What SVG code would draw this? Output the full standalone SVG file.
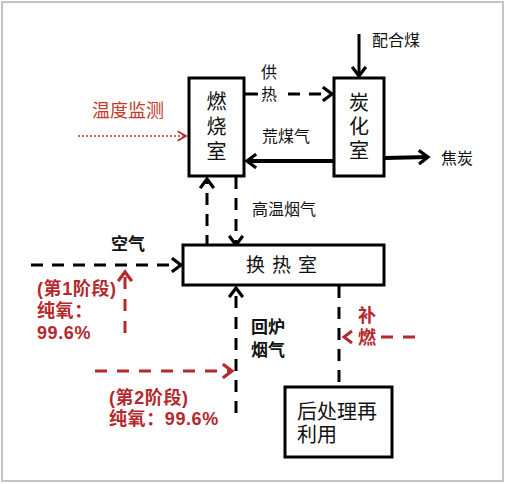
<svg xmlns="http://www.w3.org/2000/svg" width="506" height="484" viewBox="0 0 506 484">
<style>
text{font-family:"Liberation Sans","Noto Sans CJK SC",sans-serif;dominant-baseline:central;fill:#111}
.box{fill:#fff;stroke:#000;stroke-width:3}
.red{fill:#b5282d}
.b{font-weight:bold}
.k{fill:none;stroke:#000;stroke-width:3}
.kd{fill:none;stroke:#000;stroke-width:3;stroke-dasharray:12 9}
.rd{fill:none;stroke:#b5282d;stroke-width:3;stroke-dasharray:12 10}
</style>
<defs>
<marker id="ak" markerUnits="userSpaceOnUse" markerWidth="14" markerHeight="16" refX="9" refY="7" orient="auto" viewBox="0 0 12 14">
<path d="M1,1 L9,7 L1,13" fill="none" stroke="#000" stroke-width="2.8"/>
</marker>
<marker id="ar" markerUnits="userSpaceOnUse" markerWidth="14" markerHeight="16" refX="9" refY="7" orient="auto" viewBox="0 0 12 14">
<path d="M1,1 L9,7 L1,13" fill="none" stroke="#b5282d" stroke-width="2.8"/>
</marker>
<marker id="ar2" markerUnits="userSpaceOnUse" markerWidth="12" markerHeight="12" refX="8" refY="5" orient="auto" viewBox="0 0 10 10">
<path d="M1,1 L8,5 L1,9" fill="none" stroke="#b5282d" stroke-width="1.5"/>
</marker>
</defs>
<rect x="2" y="2" width="501" height="479" fill="#fff" stroke="#c4c4c4" stroke-width="2"/>

<g id="connectors">
<line class="k" x1="359" y1="34" x2="359" y2="76" marker-end="url(#ak)"/>
<line class="k" x1="244" y1="94" x2="258" y2="94"/>
<line class="kd" x1="288" y1="94" x2="332" y2="94" marker-end="url(#ak)"/>
<line class="k" style="stroke-width:4" x1="334" y1="161" x2="247" y2="161" marker-end="url(#ak)"/>
<line class="k" style="stroke-width:4" x1="385" y1="158" x2="428" y2="157" marker-end="url(#ak)"/>
<line x1="78" y1="136" x2="186" y2="136" stroke="#c0392b" stroke-width="1.6" stroke-dasharray="2 2" marker-end="url(#ar2)"/>
<line class="kd" x1="207" y1="247" x2="207" y2="179" marker-end="url(#ak)"/>
<line class="kd" x1="236" y1="177" x2="236" y2="245" marker-end="url(#ak)"/>
<line class="kd" x1="31" y1="265" x2="181" y2="265" marker-end="url(#ak)"/>
<line class="rd" x1="125" y1="333" x2="125" y2="272" marker-end="url(#ar)"/>
<line class="kd" x1="236" y1="413" x2="236" y2="288" marker-end="url(#ak)"/>
<line class="rd" x1="95" y1="371" x2="232" y2="371" marker-end="url(#ar)"/>
<line class="kd" x1="339" y1="286" x2="339" y2="396" marker-end="url(#ak)"/>
<line class="rd" x1="381" y1="337" x2="418" y2="337"/>
<path d="M352,331 L344,337 L352,343" fill="none" stroke="#b5282d" stroke-width="3"/>
</g>

<g id="combustion">
<rect class="box" x="189" y="78" width="55" height="98"/>
<text font-size="20" text-anchor="middle"><tspan x="216.5" y="102">燃</tspan><tspan x="216.5" y="127">烧</tspan><tspan x="216.5" y="152">室</tspan></text>
</g>
<g id="carbonization">
<rect class="box" x="334" y="78" width="50" height="98"/>
<text font-size="20" text-anchor="middle"><tspan x="359" y="103">炭</tspan><tspan x="359" y="127">化</tspan><tspan x="359" y="151">室</tspan></text>
</g>
<g id="heat-exchange">
<rect class="box" x="183" y="245" width="201" height="40"/>
<text x="285" y="265" font-size="19" text-anchor="middle" letter-spacing="7">换热室</text>
</g>
<g id="post-treatment">
<rect class="box" x="285" y="387" width="107" height="70"/>
<text font-size="20"><tspan x="297" y="412">后处理再</tspan><tspan x="297" y="435">利用</tspan></text>
</g>

<g id="labels">
<text x="372" y="40" font-size="16">配合煤</text>
<text x="441" y="158" font-size="16">焦炭</text>
<text font-size="16"><tspan x="261" y="72">供</tspan><tspan x="261" y="94">热</tspan></text>
<text x="262" y="136" font-size="16">荒煤气</text>
<text x="92" y="111" font-size="18" style="fill:#c0392b">温度监测</text>
<text x="252" y="209" font-size="16">高温烟气</text>
<text x="111" y="244" font-size="17" class="b">空气</text>
<text font-size="18" class="b red" letter-spacing="0.6"><tspan x="37" y="289">(第1阶段)</tspan><tspan x="37" y="311">纯氧：</tspan><tspan x="37" y="333">99.6%</tspan></text>
<text font-size="17" class="b"><tspan x="251" y="327">回炉</tspan><tspan x="251" y="350">烟气</tspan></text>
<text font-size="18" class="b red" letter-spacing="0.6"><tspan x="109" y="398">(第2阶段)</tspan><tspan x="109" y="419">纯氧：99.6%</tspan></text>
<text font-size="18" class="b red"><tspan x="358" y="316">补</tspan><tspan x="358" y="338">燃</tspan></text>
</g>
</svg>
